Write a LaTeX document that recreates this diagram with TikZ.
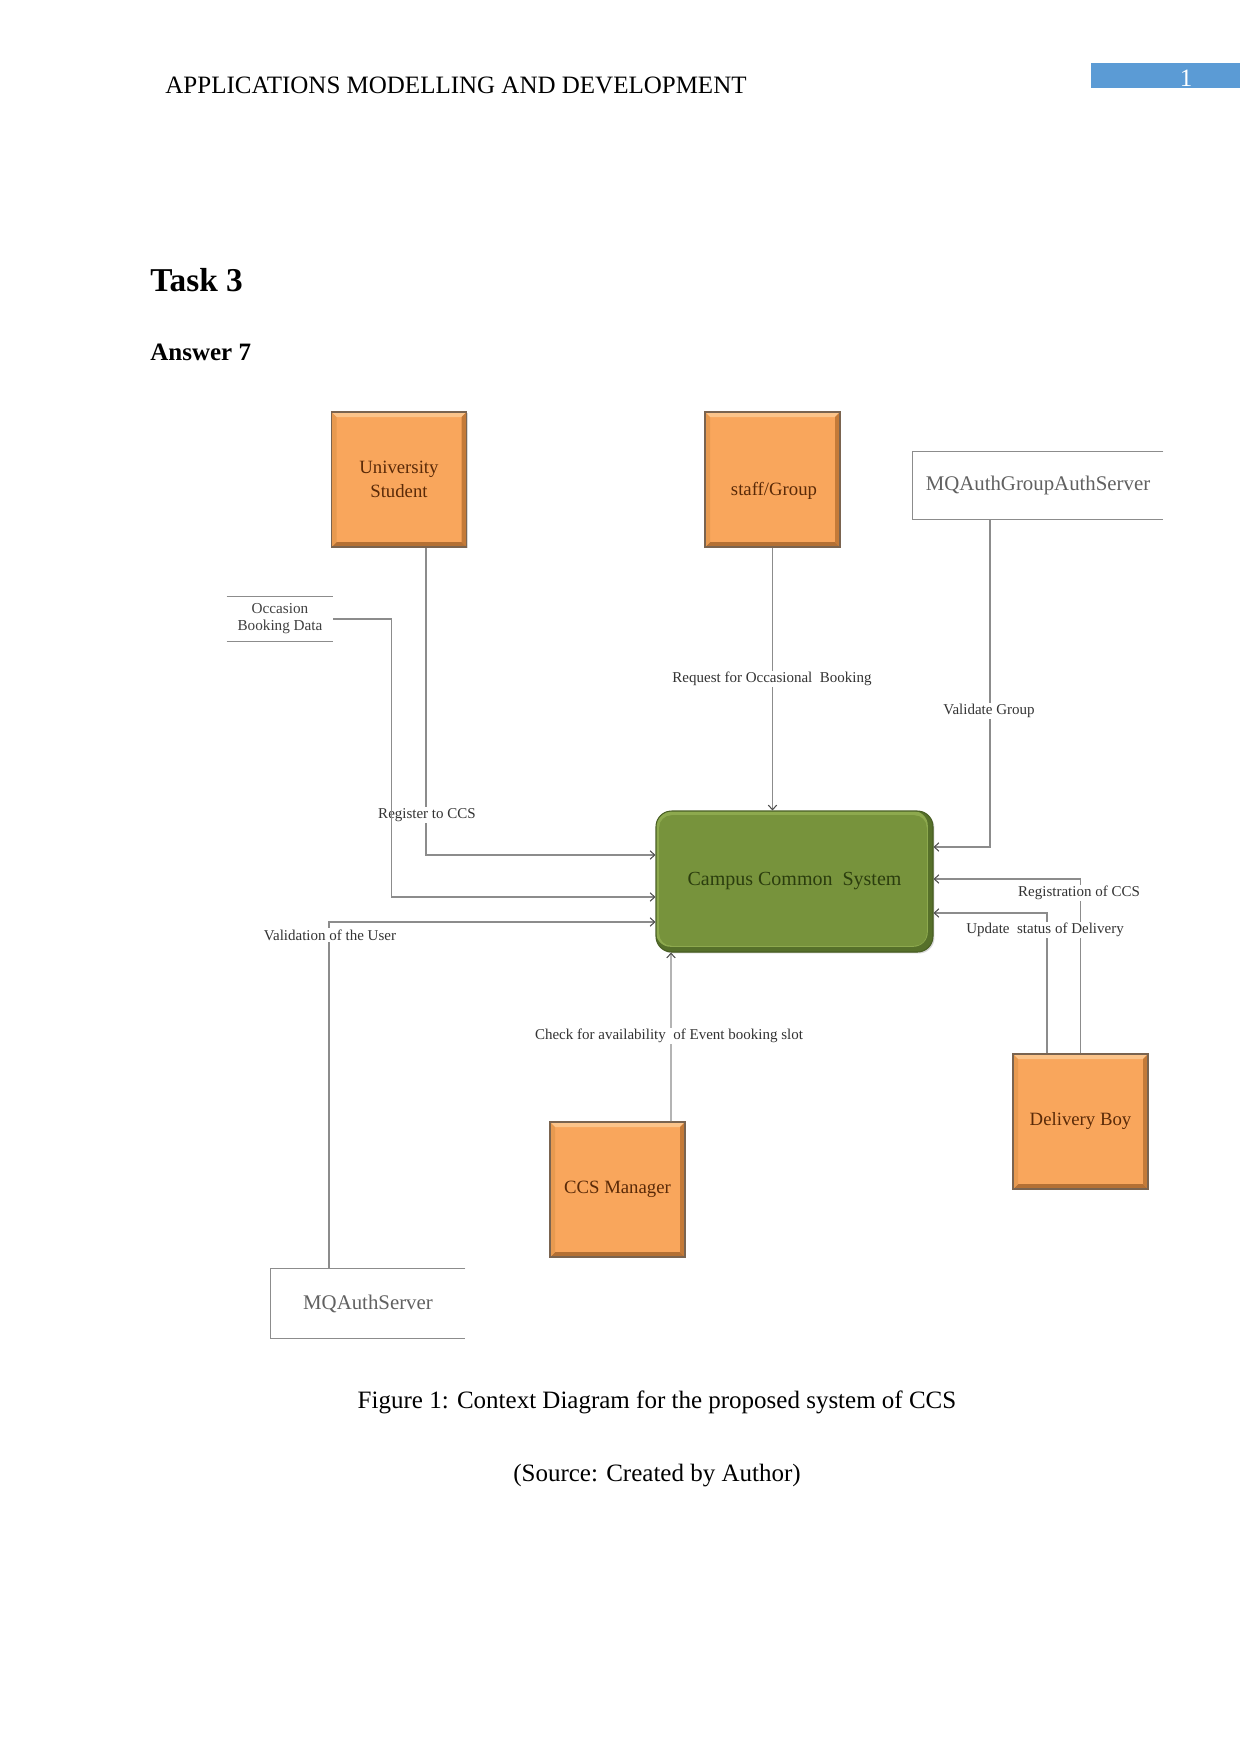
\documentclass[tikz,border=0pt]{standalone}
\usepackage{fontspec}
\setmainfont{Liberation Serif}
\usetikzlibrary{arrows.meta,calc,shadows}
\definecolor{orfill}{HTML}{F9A65C}
\definecolor{orlight}{HTML}{FCC48A}
\definecolor{ordark}{HTML}{C47A38}
\definecolor{orleft}{HTML}{E89A50}
\definecolor{oredge}{HTML}{7A6450}
\definecolor{ortext}{HTML}{5A2A08}
\definecolor{grfill}{HTML}{77933C}
\definecolor{grlight}{HTML}{8DA94E}
\definecolor{grdark}{HTML}{56702A}
\definecolor{grtext}{HTML}{2B3D0E}
\definecolor{hdrblue}{HTML}{5B9BD5}
\definecolor{connc}{HTML}{8C8C8C}
\begin{document}
\begin{tikzpicture}[x=0.48pt,y=-0.48pt,
  obox/.style={draw=oredge, fill=orfill, line width=0.5pt, minimum width=64.8pt, minimum height=64.8pt,
    inner sep=0pt, align=center, text=ortext, font=\fontsize{9}{11.5}\selectfont,
    drop shadow={shadow xshift=0.7pt, shadow yshift=-0.7pt, opacity=0.3},
    path picture={
      \coordinate (ppNW) at (path picture bounding box.north west);
      \coordinate (ppNE) at (path picture bounding box.north east);
      \coordinate (ppSW) at (path picture bounding box.south west);
      \coordinate (ppSE) at (path picture bounding box.south east);
      \fill[orlight] (ppNW) -- (ppNE) -- ([shift={(-2.4pt,-2.4pt)}]ppNE) -- ([shift={(2.4pt,-2.4pt)}]ppNW) -- cycle;
      \fill[ordark] (ppNE) -- (ppSE) -- ([shift={(-2.4pt,2.4pt)}]ppSE) -- ([shift={(-2.4pt,-2.4pt)}]ppNE) -- cycle;
      \fill[ordark!92!black] (ppSE) -- (ppSW) -- ([shift={(2.4pt,2.4pt)}]ppSW) -- ([shift={(-2.4pt,2.4pt)}]ppSE) -- cycle;
      \fill[orleft] (ppSW) -- (ppNW) -- ([shift={(2.4pt,-2.4pt)}]ppNW) -- ([shift={(2.4pt,2.4pt)}]ppSW) -- cycle;
    }},
  btext/.style={inner sep=0pt, text=ortext, font=\fontsize{9}{11.5}\selectfont},
  gbox/.style={draw=grdark!85!black, fill=grfill, line width=0.5pt, rounded corners=7.5pt,
    minimum width=132.96pt, minimum height=67.68pt, inner sep=0pt, text=grtext,
    font=\fontsize{9.6}{12}\selectfont,
    drop shadow={shadow xshift=0.7pt, shadow yshift=-0.7pt, opacity=0.3},
    path picture={
      \coordinate (gpSW) at (path picture bounding box.south west);
      \coordinate (gpNE) at (path picture bounding box.north east);
      \fill[grdark] (gpSW) rectangle (gpNE);
      \fill[grlight, rounded corners=7pt] ([shift={(0pt,2.5pt)}]gpSW) rectangle ([shift={(-2.5pt,0pt)}]gpNE);
      \fill[grfill, rounded corners=6pt] ([shift={(1.5pt,3pt)}]gpSW) rectangle ([shift={(-3pt,-2pt)}]gpNE);
    }},
  openbox/.style={inner sep=0pt, text=black!62, font=\fontsize{10}{12}\selectfont},
  bline/.style={draw=black!45, line width=0.6pt},
  odata/.style={inner sep=0pt, align=center, text=black!75, font=\fontsize{7.3}{8.2}\selectfont},
  conn/.style={draw=connc, line width=0.5pt, -{Straight Barb[length=2.2pt,width=4pt,color=black!70]}},
  lbl/.style={fill=white, inner sep=0.6pt, text=black!80, font=\fontsize{7.2}{9}\selectfont}
]
\useasboundingbox (0,0) rectangle (1241,1754);
\fill[white] (0,0) rectangle (1241,1754);

% page header
\node[anchor=base west, inner sep=0pt, font=\fontsize{12}{14}\selectfont] (hdr) at (165,93) {APPLICATIONS MODELLING AND DEVELOPMENT};
\node[fill=hdrblue, minimum width=71.5pt, minimum height=12pt, inner sep=0pt] (pgbox) at (1165.5,75.5) {};
\node[anchor=base, inner sep=0pt, text=white, font=\fontsize{12}{14}\selectfont] (pgnum) at (1186,86) {1};
\node[anchor=base west, inner sep=0pt, font=\fontsize{16}{19}\bfseries] (task) at (150,291) {Task 3};
\node[anchor=base west, inner sep=0pt, font=\fontsize{12}{14}\bfseries] (ans) at (150,360) {Answer 7};

% entities
\node[obox] (us) at (399,479.5) {University\\Student};
\node[obox] (sg) at (772.5,479.5) {};
\node[btext] (sgt) at (774,491) {staff/Group};
\node[openbox, minimum width=120pt, minimum height=32.16pt] (mqg) at (1038,485.5) {MQAuthGroupAuthServer};
\draw[bline] (mqg.north east) -- (mqg.north west) -- (mqg.south west) -- (mqg.south east);
\node[odata, minimum width=50.88pt, minimum height=21.12pt] (ocb) at (280,619) {Occasion\\Booking Data};
\draw[bline] (ocb.north west) -- (ocb.north east);
\draw[bline] (ocb.south west) -- (ocb.south east);
\node[gbox] (ccs) at (794.5,881.5) {Campus Common\ \ System};
\node[obox] (mgr) at (617.5,1189.5) {CCS Manager};
\node[obox] (dboy) at (1080.5,1121.5) {Delivery Boy};
\node[openbox, minimum width=93.12pt, minimum height=33.12pt] (mqs) at (368,1303.5) {MQAuthServer};
\draw[bline] (mqs.north east) -- (mqs.north west) -- (mqs.south west) -- (mqs.south east);

% connectors
\draw[conn] ([xshift=12.96pt]us.south) |- ([yshift=12.72pt]ccs.west);
\node[lbl] (l1) at (427,815) {Register to CCS};
\draw[conn] (ocb.east) -- ++(58,0) |- ([yshift=-7.44pt]ccs.west);
\draw[conn] ([xshift=-18.72pt]mqs.north) |- ([yshift=-19.44pt]ccs.west);
\node[lbl] (l3) at (330,935) {Validation of the User};
\draw[conn] (sg.south) -- (sg.south |- ccs.north);
\node[lbl] (l2) at (772,679) {Request for Occasional\ \ Booking};
\draw[conn] ([xshift=-23.04pt]mqg.south) |- ([yshift=16.56pt]ccs.east);
\node[lbl] (l4) at (989,711) {Validate Group};
\draw[conn] (dboy.north) |- ([yshift=1.2pt]ccs.east);
\draw[conn] ([xshift=-16.08pt]dboy.north) |- ([yshift=-15.12pt]ccs.east);
\node[lbl] (l5) at (1079,893) {Registration of CCS};
\node[lbl] (l6) at (1045,930) {Update\ \ status of Delivery};
\draw[conn] ([xshift=25.68pt]mgr.north) -- ([xshift=-59.28pt]ccs.south);
\node[lbl] (l7) at (669,1036) {Check for availability\ \ of Event booking slot};

% caption
\node[anchor=base, inner sep=0pt, font=\fontsize{12}{14}\selectfont] (cap) at (657,1408) {Figure 1: Context Diagram for the proposed system of CCS};
\node[anchor=base, inner sep=0pt, font=\fontsize{12}{14}\selectfont] (src) at (657,1481) {(Source: Created by Author)};
\end{tikzpicture}
\end{document}
